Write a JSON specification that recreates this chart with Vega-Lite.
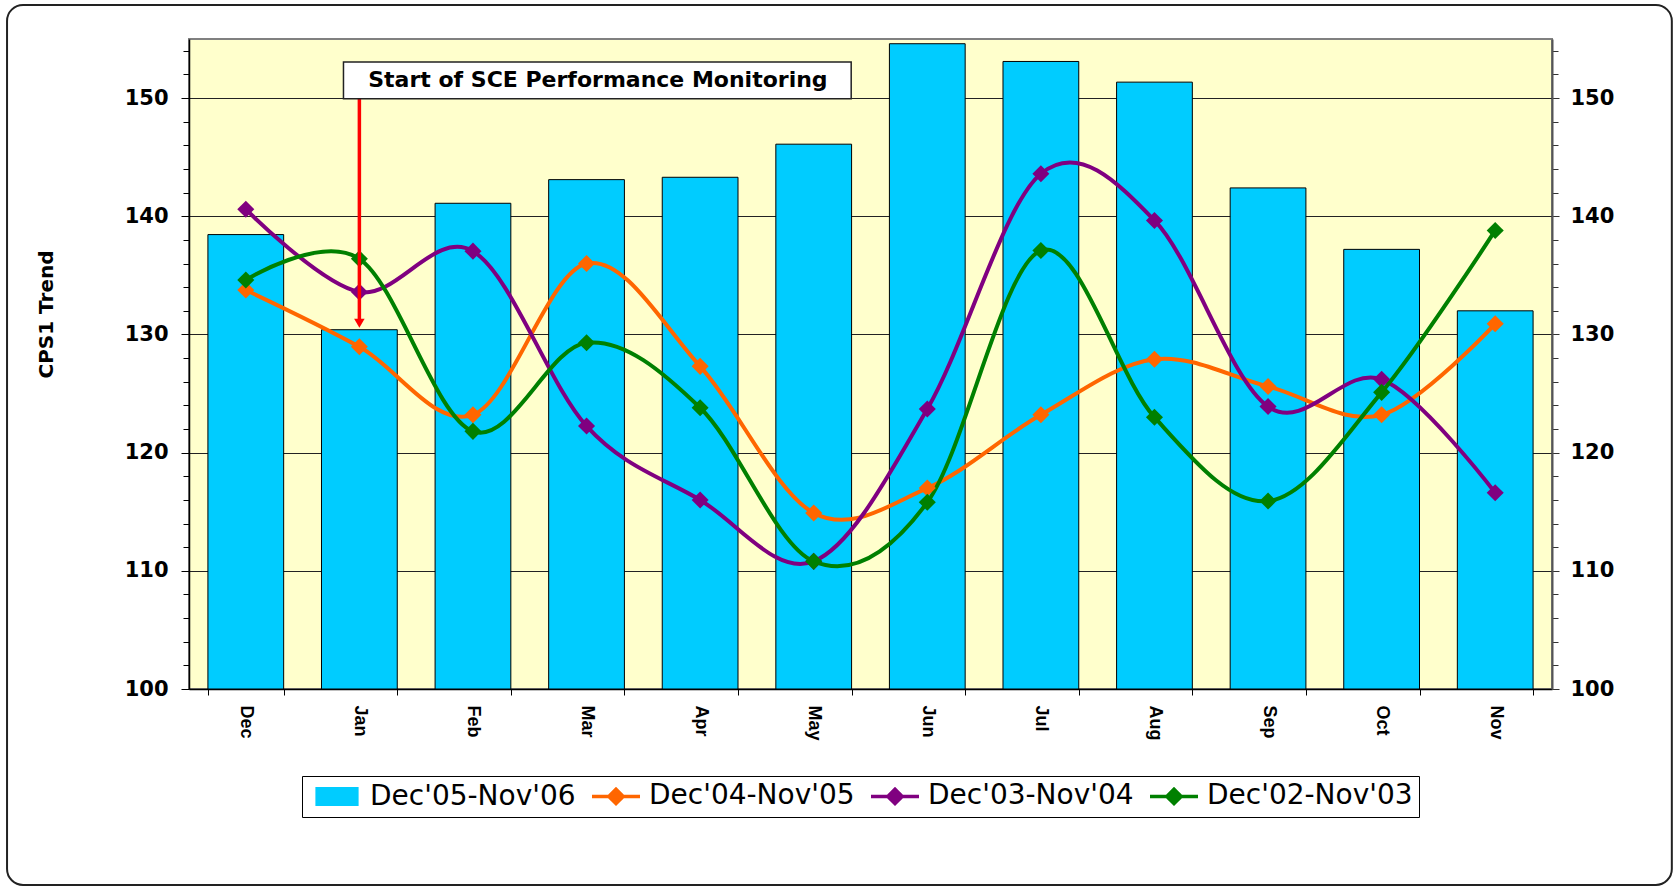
{
  "$schema": "https://vega.github.io/schema/vega-lite/v6.json",
  "autosize": "none",
  "width": 1363,
  "height": 650,
  "padding": {"left": 189, "top": 39, "right": 123, "bottom": 201},
  "background": "white",
  "config": {
    "view": {"fill": "#FFFFCC", "stroke": "#808080", "strokeWidth": 2},
    "legend": {"labelLimit": 500}
  },
  "datasets": {
    "cps": [
      {"month": "Dec", "series": "Dec'05-Nov'06", "value": 138.45},
      {"month": "Jan", "series": "Dec'05-Nov'06", "value": 130.4},
      {"month": "Feb", "series": "Dec'05-Nov'06", "value": 141.1},
      {"month": "Mar", "series": "Dec'05-Nov'06", "value": 143.1},
      {"month": "Apr", "series": "Dec'05-Nov'06", "value": 143.3},
      {"month": "May", "series": "Dec'05-Nov'06", "value": 146.1},
      {"month": "Jun", "series": "Dec'05-Nov'06", "value": 154.6},
      {"month": "Jul", "series": "Dec'05-Nov'06", "value": 153.1},
      {"month": "Aug", "series": "Dec'05-Nov'06", "value": 151.35},
      {"month": "Sep", "series": "Dec'05-Nov'06", "value": 142.4},
      {"month": "Oct", "series": "Dec'05-Nov'06", "value": 137.2},
      {"month": "Nov", "series": "Dec'05-Nov'06", "value": 132.0},
      {"month": "Dec", "series": "Dec'04-Nov'05", "value": 133.76},
      {"month": "Jan", "series": "Dec'04-Nov'05", "value": 128.96},
      {"month": "Feb", "series": "Dec'04-Nov'05", "value": 123.2},
      {"month": "Mar", "series": "Dec'04-Nov'05", "value": 136.0},
      {"month": "Apr", "series": "Dec'04-Nov'05", "value": 127.3},
      {"month": "May", "series": "Dec'04-Nov'05", "value": 114.9},
      {"month": "Jun", "series": "Dec'04-Nov'05", "value": 117.0},
      {"month": "Jul", "series": "Dec'04-Nov'05", "value": 123.2},
      {"month": "Aug", "series": "Dec'04-Nov'05", "value": 127.9},
      {"month": "Sep", "series": "Dec'04-Nov'05", "value": 125.6},
      {"month": "Oct", "series": "Dec'04-Nov'05", "value": 123.2},
      {"month": "Nov", "series": "Dec'04-Nov'05", "value": 130.9},
      {"month": "Dec", "series": "Dec'03-Nov'04", "value": 140.6},
      {"month": "Jan", "series": "Dec'03-Nov'04", "value": 133.6},
      {"month": "Feb", "series": "Dec'03-Nov'04", "value": 137.05},
      {"month": "Mar", "series": "Dec'03-Nov'04", "value": 122.25},
      {"month": "Apr", "series": "Dec'03-Nov'04", "value": 116.0},
      {"month": "May", "series": "Dec'03-Nov'04", "value": 110.8},
      {"month": "Jun", "series": "Dec'03-Nov'04", "value": 123.7},
      {"month": "Jul", "series": "Dec'03-Nov'04", "value": 143.6},
      {"month": "Aug", "series": "Dec'03-Nov'04", "value": 139.65},
      {"month": "Sep", "series": "Dec'03-Nov'04", "value": 123.9},
      {"month": "Oct", "series": "Dec'03-Nov'04", "value": 126.2},
      {"month": "Nov", "series": "Dec'03-Nov'04", "value": 116.6},
      {"month": "Dec", "series": "Dec'02-Nov'03", "value": 134.6},
      {"month": "Jan", "series": "Dec'02-Nov'03", "value": 136.4},
      {"month": "Feb", "series": "Dec'02-Nov'03", "value": 121.8},
      {"month": "Mar", "series": "Dec'02-Nov'03", "value": 129.3},
      {"month": "Apr", "series": "Dec'02-Nov'03", "value": 123.8},
      {"month": "May", "series": "Dec'02-Nov'03", "value": 110.8},
      {"month": "Jun", "series": "Dec'02-Nov'03", "value": 115.8},
      {"month": "Jul", "series": "Dec'02-Nov'03", "value": 137.1},
      {"month": "Aug", "series": "Dec'02-Nov'03", "value": 123.0},
      {"month": "Sep", "series": "Dec'02-Nov'03", "value": 115.9},
      {"month": "Oct", "series": "Dec'02-Nov'03", "value": 125.1},
      {"month": "Nov", "series": "Dec'02-Nov'03", "value": 138.8}
    ]
  },
  "data": {"name": "cps"},
  "resolve": {"scale": {"x": "independent", "y": "independent"}},
  "layer": [
    {
      "transform": [{"filter": "datum.series === \"Dec'05-Nov'06\""}],
      "mark": {"type": "bar", "stroke": "#000000", "strokeWidth": 1},
      "encoding": {
        "x": {
          "field": "month", "type": "nominal",
          "sort": ["Dec","Jan","Feb","Mar","Apr","May","Jun","Jul","Aug","Sep","Oct","Nov"],
          "scale": {"paddingInner": 0.333, "paddingOuter": 0.1665},
          "axis": {
            "title": null, "labelAngle": 90, "labelFont": "Liberation Sans", "labelFontWeight": "bold",
            "labelFontSize": 18, "labelColor": "#000000", "labelPadding": 10, "tickBand": "extent",
            "tickSize": 6, "tickColor": "#000000", "domainColor": "#000000", "domainWidth": 1.5, "grid": false
          }
        },
        "y": {
          "field": "value", "type": "quantitative",
          "scale": {"domain": [100, 155], "nice": false, "zero": false},
          "axis": {
            "title": "CPS1 Trend", "titleFont": "DejaVu Sans", "titleFontWeight": "bold", "titleFontSize": 20,
            "titleColor": "#000000", "titleAngle": -90, "titleX": -143, "titleY": 275, "titleAlign": "center", "titleBaseline": "middle",
            "values": [100,102,104,106,108,110,112,114,116,118,120,122,124,126,128,130,132,134,136,138,140,142,144,146,148,150,152,154],
            "labelExpr": "datum.value % 10 === 0 ? datum.label : ''",
            "labelFont": "DejaVu Sans", "labelFontWeight": "bold", "labelFontSize": 21, "labelColor": "#000000",
            "labelPadding": 13,
            "tickSize": {"condition": {"test": "datum.value % 10 === 0", "value": 8}, "value": 6},
            "tickColor": "#000000", "domainColor": "#000000", "domainWidth": 1.5,
            "grid": true, "gridColor": "#222222", "gridWidth": 1,
            "gridOpacity": {"condition": {"test": "datum.value % 10 === 0 && datum.value > 100", "value": 1}, "value": 0}
          }
        },
        "y2": {"datum": 100},
        "color": {
          "field": "series", "type": "nominal",
          "scale": {
            "domain": ["Dec'05-Nov'06","Dec'04-Nov'05","Dec'03-Nov'04","Dec'02-Nov'03"],
            "range": ["#00CCFF","#FF6600","#800080","#008000"]
          },
          "legend": {
            "title": null, "orient": "none", "legendX": 113, "legendY": 737,
            "direction": "horizontal", "columns": 4, "columnPadding": 9,
            "labelFont": "DejaVu Sans", "labelFontSize": 28, "labelColor": "#000000", "labelOffset": 19, "labelLimit": 500,
            "symbolSize": 2304, "symbolStrokeWidth": 3.5, "symbolOffset": 15,
            "padding": 6, "strokeColor": "#000000", "fillColor": "#FFFFFF",
            "encode": {
              "symbols": {
                "update": {
                  "shape": {"signal": "datum.index === 0 ? 'M-0.875,-0.375H0.875V0.375H-0.875Z' : 'M-1,0H1M0,-0.3L0.3,0L0,0.3L-0.3,0Z'"},
                  "stroke": {"signal": "datum.index === 0 ? '#000000' : scale('color', datum.value)"},
                  "strokeWidth": {"signal": "datum.index === 0 ? 1.2 : 3.5"},
                  "fill": {"signal": "scale('color', datum.value)"},
                  "opacity": {"value": 1},
                  "size": {"value": 2304}
                }
              }
            }
          }
        }
      }
    },
    {
      "transform": [{"filter": "datum.series !== \"Dec'05-Nov'06\""}],
      "encoding": {
        "x": {
          "field": "month", "type": "nominal",
          "sort": ["Dec","Jan","Feb","Mar","Apr","May","Jun","Jul","Aug","Sep","Oct","Nov"],
          "axis": null
        },
        "y": {
          "field": "value", "type": "quantitative",
          "scale": {"domain": [100, 155], "nice": false, "zero": false},
          "axis": {
            "orient": "right", "title": null,
            "values": [100,102,104,106,108,110,112,114,116,118,120,122,124,126,128,130,132,134,136,138,140,142,144,146,148,150,152,154],
            "labelExpr": "datum.value % 10 === 0 ? datum.label : ''",
            "labelFont": "DejaVu Sans", "labelFontWeight": "bold", "labelFontSize": 21, "labelColor": "#000000",
            "labelPadding": 11,
            "tickSize": {"condition": {"test": "datum.value % 10 === 0", "value": 7}, "value": 6},
            "tickColor": "#333333", "domainColor": "#555555", "domainWidth": 2, "grid": false
          }
        },
        "color": {
          "field": "series", "type": "nominal",
          "legend": {
            "title": null, "orient": "none", "legendX": 113, "legendY": 737,
            "direction": "horizontal", "columns": 4, "columnPadding": 9,
            "labelFont": "DejaVu Sans", "labelFontSize": 28, "labelColor": "#000000", "labelOffset": 19, "labelLimit": 500,
            "symbolSize": 2304, "symbolStrokeWidth": 3.5, "symbolOffset": 15,
            "padding": 6, "strokeColor": "#000000", "fillColor": "#FFFFFF",
            "encode": {
              "symbols": {
                "update": {
                  "shape": {"signal": "datum.index === 0 ? 'M-0.875,-0.375H0.875V0.375H-0.875Z' : 'M-1,0H1M0,-0.3L0.3,0L0,0.3L-0.3,0Z'"},
                  "stroke": {"signal": "datum.index === 0 ? '#000000' : scale('color', datum.value)"},
                  "strokeWidth": {"signal": "datum.index === 0 ? 1.2 : 3.5"},
                  "fill": {"signal": "scale('color', datum.value)"},
                  "opacity": {"value": 1},
                  "size": {"value": 2304}
                }
              }
            }
          }
        }
      },
      "layer": [
        {"mark": {"type": "line", "interpolate": "cardinal", "tension": 0, "strokeWidth": 4}},
        {"mark": {"type": "point", "shape": "diamond", "filled": true, "size": 290, "opacity": 1}}
      ]
    },
    {
      "data": {"values": [{}]},
      "layer": [
        {
          "mark": {"type": "rect", "fill": null, "fillOpacity": 0, "stroke": "#222222", "strokeWidth": 2, "cornerRadius": 16, "clip": false},
          "encoding": {
            "x": {"datum": -1.602, "type": "quantitative", "scale": {"domain": [0, 12], "nice": false, "zero": false}, "axis": null},
            "x2": {"datum": 13.055},
            "y": {"datum": 83.42, "type": "quantitative", "scale": {"domain": [100, 155], "nice": false, "zero": false}, "axis": null},
            "y2": {"datum": 157.88}
          }
        },
        {
          "mark": {"type": "rule", "color": "#FF0000", "strokeWidth": 3.5},
          "encoding": {
            "x": {"datum": 1.5, "type": "quantitative", "axis": null},
            "y": {"datum": 150, "type": "quantitative", "axis": null},
            "y2": {"datum": 131.2}
          }
        },
        {
          "mark": {"type": "point", "shape": "triangle-down", "filled": true, "color": "#FF0000", "size": 110, "opacity": 1},
          "encoding": {
            "x": {"datum": 1.5, "type": "quantitative", "axis": null},
            "y": {"datum": 130.95, "type": "quantitative", "axis": null}
          }
        },
        {
          "mark": {"type": "rect", "fill": "#FFFFFF", "stroke": "#222222", "strokeWidth": 1.5},
          "encoding": {
            "x": {"datum": 1.36, "type": "quantitative", "axis": null},
            "x2": {"datum": 5.83},
            "y": {"datum": 149.95, "type": "quantitative", "axis": null},
            "y2": {"datum": 153.05}
          }
        },
        {
          "mark": {"type": "text", "font": "DejaVu Sans", "fontWeight": "bold", "fontSize": 22, "color": "#000000", "align": "center", "baseline": "middle"},
          "encoding": {
            "x": {"datum": 3.6, "type": "quantitative", "axis": null},
            "y": {"datum": 151.5, "type": "quantitative", "axis": null},
            "text": {"value": "Start of SCE Performance Monitoring"}
          }
        }
      ]
    }
  ]
}
